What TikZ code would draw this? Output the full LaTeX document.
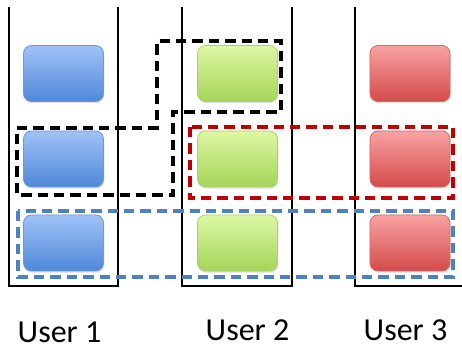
\documentclass[tikz,border=0pt]{standalone}
\usepackage{fontspec}
\setmainfont{Carlito}
\usetikzlibrary{shadows}

\definecolor{bluetop}{HTML}{A0C2F8}
\definecolor{bluebot}{HTML}{4F88D8}
\definecolor{blueedge}{HTML}{6A9AD8}
\definecolor{greentop}{HTML}{DCF8A4}
\definecolor{greenbot}{HTML}{A6D458}
\definecolor{greenedge}{HTML}{A8D26A}
\definecolor{redtop}{HTML}{F9A2A2}
\definecolor{redbot}{HTML}{D44A4A}
\definecolor{rededge}{HTML}{D46A6A}
\definecolor{dashblue}{HTML}{4F81BD}
\definecolor{dashred}{HTML}{C00000}

\tikzset{
  column/.style={line width=1.5pt, line join=miter},
  cell/.style={rounded corners=6pt, minimum width=60pt, minimum height=42pt,
    inner sep=0pt, line width=0.6pt,
    drop shadow={opacity=0.25, shadow xshift=0.6pt, shadow yshift=-1.2pt}},
  bluecell/.style={cell, draw=blueedge, top color=bluetop, bottom color=bluebot},
  greencell/.style={cell, draw=greenedge, top color=greentop, bottom color=greenbot},
  redcell/.style={cell, draw=rededge, top color=redtop, bottom color=redbot},
  blockgroup/.style={draw=#1, line width=2.7pt, dash pattern=on 7.8pt off 4.5pt},
  userlabel/.style={anchor=base, font=\fontsize{24}{28}\selectfont, inner sep=0pt},
}

\begin{document}
\begin{tikzpicture}[x=0.75pt, y=-0.75pt]
  \useasboundingbox (0,0) rectangle (462,349);
  \fill[white] (0,0) rectangle (462,349);

  % the three user columns
  \draw[column] (9,7) -- (9,286) -- (118,286) -- (118,7);
  \draw[column] (182,7) -- (182,286) -- (292,286) -- (292,7);
  \draw[column] (355,7) -- (355,286) -- (462,286);

  % blocks of each user
  \node[bluecell]  (b1) at (63.5,73.5) {};
  \node[bluecell]  (b2) at (63.5,159) {};
  \node[bluecell]  (b3) at (63.5,243) {};
  \node[greencell] (g1) at (237.5,73.5) {};
  \node[greencell] (g2) at (237.5,159) {};
  \node[greencell] (g3) at (237.5,243) {};
  \node[redcell]   (r1) at (410,73.5) {};
  \node[redcell]   (r2) at (410,159) {};
  \node[redcell]   (r3) at (410,243) {};

  % groupings of blocks
  \path[blockgroup=black] (17,128) -- (157,128) -- (157,41) -- (281,41)
    -- (281,112) -- (173,112) -- (173,195) -- (17,195) -- cycle;
  \path[blockgroup=dashred] (190,127) rectangle (453,198);
  \path[blockgroup=dashblue] (18,211) rectangle (453,277);

  % user labels
  \node[userlabel] (u1) at (59.5,343) {User 1};
  \node[userlabel] (u2) at (247.5,341) {User 2};
  \node[userlabel] (u3) at (405.5,341) {User 3};
\end{tikzpicture}
\end{document}
